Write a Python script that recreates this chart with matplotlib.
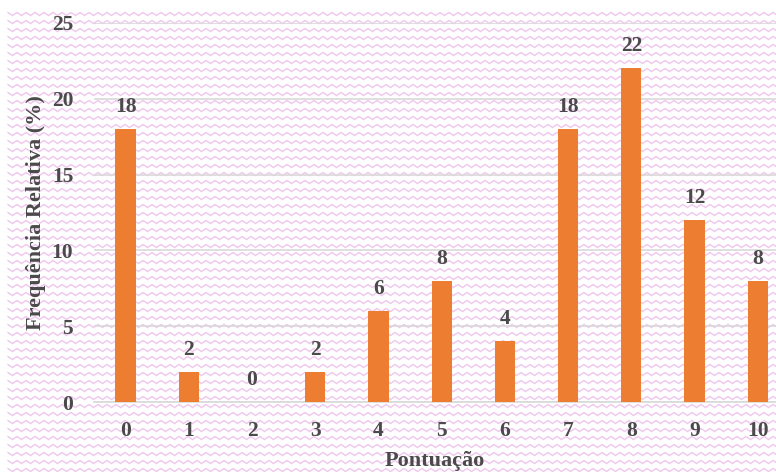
import matplotlib.pyplot as plt
import numpy as np

pontuacao = [0, 1, 2, 3, 4, 5, 6, 7, 8, 9, 10]
frequencia = [18, 2, 0, 2, 6, 8, 4, 18, 22, 12, 8]
y_ticks = [0, 5, 10, 15, 20, 25]

BAR_COLOR = '#ED7D31'
TEXT_COLOR = '#4A4A4A'
GRID_COLOR = '#D9D9D9'
PATTERN_COLOR = '#F0C6EE'

plt.rcParams['font.family'] = ['Liberation Serif', 'DejaVu Serif']
plt.rcParams['font.weight'] = 'bold'

fig = plt.figure(figsize=(7.76, 4.72), dpi=100)
fig.patch.set_facecolor('white')

# zigzag background pattern, drawn in pixel coordinates
bg = fig.add_axes([0, 0, 1, 1], zorder=0)
bg.set_xlim(0, 776)
bg.set_ylim(472, 0)
bg.axis('off')
xs = np.arange(8, 780, 4.5)
offs = np.where(np.arange(len(xs)) % 2 == 0, -1.5, 1.5)
for row in np.arange(14, 476, 8):
    bg.plot(xs, row + offs, color=PATTERN_COLOR, lw=1.0, solid_joinstyle='miter')

ax = fig.add_axes([94 / 776, 1 - 402 / 472, 1 - 94 / 776, (402 - 23) / 472], zorder=1)
ax.patch.set_alpha(0)

ax.bar(pontuacao, frequencia, width=0.32, color=BAR_COLOR, zorder=3)
for x, v in zip(pontuacao, frequencia):
    ax.text(x, v + 0.8, str(v), ha='center', va='bottom', fontsize=15.5,
            fontweight='bold', color=TEXT_COLOR)

ax.set_xlim(-0.5, 10.29)
ax.set_ylim(0, 25)
ax.set_yticks(y_ticks)
ax.set_xticks(pontuacao)
ax.yaxis.grid(True, color=GRID_COLOR, lw=1.2, zorder=0)
ax.set_axisbelow(True)

for side in ['top', 'right', 'left']:
    ax.spines[side].set_visible(False)
ax.spines['bottom'].set_color(GRID_COLOR)
ax.spines['bottom'].set_linewidth(1.2)

ax.tick_params(axis='both', length=0, labelsize=15.5, labelcolor=TEXT_COLOR)
ax.tick_params(axis='y', pad=15)
ax.tick_params(axis='x', pad=14)

ax.set_xlabel('Pontuação', fontsize=16, fontweight='bold', color=TEXT_COLOR, labelpad=7)
ax.set_ylabel('Frequência Relativa (%)', fontsize=16, fontweight='bold', color=TEXT_COLOR, labelpad=4)

fig.savefig('out.png', dpi=100, facecolor=fig.get_facecolor())
